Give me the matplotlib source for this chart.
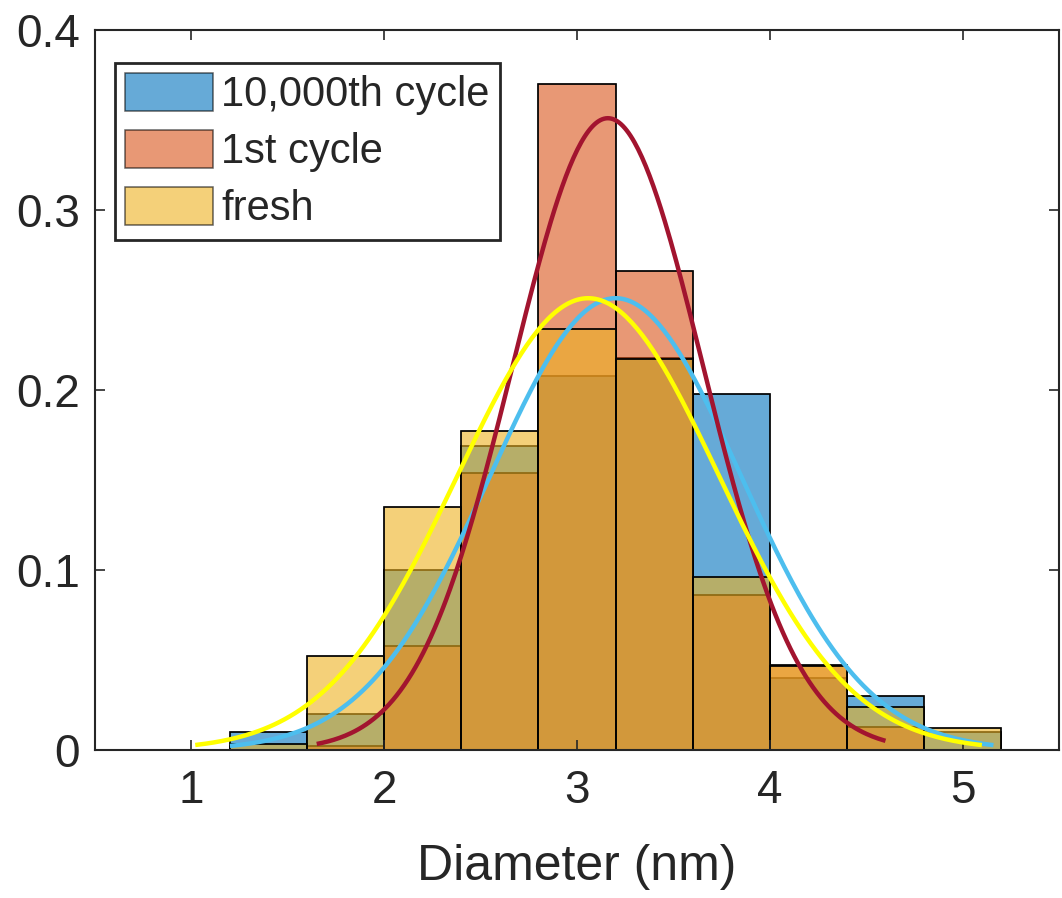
import numpy as np
import matplotlib
matplotlib.use("Agg")
import matplotlib.pyplot as plt

# ---- data ----
bin_edges = [1.2, 1.6, 2.0, 2.4, 2.8, 3.2, 3.6, 4.0, 4.4, 4.8, 5.2]
cycle10000 = [0.010, 0.020, 0.100, 0.169, 0.208, 0.218, 0.198, 0.040, 0.030, 0.0098]
cycle1 = [0.0, 0.002, 0.058, 0.154, 0.370, 0.266, 0.086, 0.0475, 0.013, 0.0]
fresh = [0.0032, 0.052, 0.135, 0.177, 0.234, 0.217, 0.096, 0.0465, 0.0237, 0.0124]
labels = ["10,000th cycle", "1st cycle", "fresh"]

# Gaussian fit parameters: (mean, sigma, peak, x_start, x_end)
fit10000 = (3.20, 0.651, 0.251, 1.20, 5.16)
fit1 = (3.16, 0.495, 0.351, 1.65, 4.60)
fitfresh = (3.058, 0.679, 0.251, 1.02, 5.10)

xticks = [1, 2, 3, 4, 5]
yticks = [0, 0.1, 0.2, 0.3, 0.4]
yticklabels = ["0", "0.1", "0.2", "0.3", "0.4"]
xlabel = "Diameter (nm)"

# ---- style ----
plt.rcParams['font.family'] = ['Liberation Sans', 'DejaVu Sans']
W, H = 1062, 898
fig = plt.figure(figsize=(W / 100, H / 100), dpi=100)
ax = fig.add_axes([95 / W, (H - 750) / H, (1059 - 95) / W, (750 - 30) / H])

hist_colors = ['#0072BD', '#D95319', '#EDB120']
fit_colors = ['#4DBEEE', '#A2142F', '#FFFF00']

lefts = bin_edges[:-1]
widths = np.diff(bin_edges)
for vals, col, lab in zip([cycle10000, cycle1, fresh], hist_colors, labels):
    ax.bar(lefts, vals, width=widths, align='edge', color=col, alpha=0.6,
           edgecolor='black', linewidth=1.1, label=lab)
    ax.bar(lefts, vals, width=widths, align='edge', facecolor='none',
           edgecolor='black', linewidth=1.1)

for (m, s, a, x0, x1), col in zip([fit10000, fit1, fitfresh], fit_colors):
    xx = np.linspace(x0, x1, 300)
    yy = a * np.exp(-(xx - m) ** 2 / (2 * s ** 2))
    ax.plot(xx, yy, color=col, linewidth=3.2, solid_capstyle='butt')

ax.set_xlim(0.5, 5.5)
ax.set_ylim(0, 0.4)
ax.set_xticks(xticks)
ax.set_xticklabels([str(t) for t in xticks])
ax.set_yticks(yticks)
ax.set_yticklabels(yticklabels)
ax.tick_params(direction='in', length=7, width=1.2, colors='#262626',
               labelsize=33, top=True, right=True, pad=11)
ax.tick_params(axis='x', pad=14)
for sp in ax.spines.values():
    sp.set_color('#262626')
    sp.set_linewidth(1.5)
ax.set_xlabel(xlabel, fontsize=36, color='#262626', labelpad=22)

leg = ax.legend(loc='upper left', bbox_to_anchor=(20 / 964, 1 - 33 / 720),
                fontsize=30, frameon=True, fancybox=False, framealpha=1,
                edgecolor='#262626', handlelength=2.1, handleheight=1.0,
                handletextpad=0.2, labelspacing=0.36, borderpad=0.25,
                borderaxespad=0)
leg.get_frame().set_linewidth(2.0)
for t in leg.get_texts():
    t.set_color('#262626')

fig.savefig('out.png', dpi=100)
